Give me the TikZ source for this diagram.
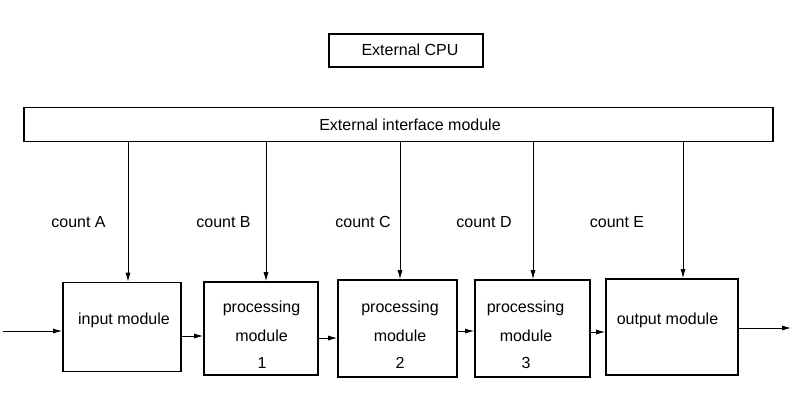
\documentclass[tikz,border=0pt]{standalone}
\usepackage{fontspec}
\setmainfont{Liberation Sans}
\usetikzlibrary{arrows.meta}
\begin{document}
\begin{tikzpicture}[x=1pt,y=-1pt,
  box/.style={draw,line width=1.6pt,inner sep=0pt,anchor=center},
  txt/.style={inner sep=0pt,anchor=center,font=\fontsize{16}{19}\selectfont},
  arr/.style={line width=0.9pt,-{Latex[length=9pt,width=5pt]}}]
\useasboundingbox (0,0) rectangle (800,400);
% boxes
\node[box,minimum width=154pt,minimum height=33pt] (cpu) at (406,50.5) {};
\node[box,minimum width=749pt,minimum height=34pt] (iface) at (398.5,124.5) {};
\node[box,minimum width=118pt,minimum height=89pt] (inp) at (122,327) {};
\node[box,minimum width=114pt,minimum height=93pt] (p1) at (261,328.5) {};
\node[box,minimum width=119pt,minimum height=97pt] (p2) at (397.5,328.5) {};
\node[box,minimum width=115pt,minimum height=97pt] (p3) at (532.5,328.5) {};
\node[box,minimum width=132pt,minimum height=96pt] (out) at (672,327) {};
% texts
\node[txt] (tcpu) at (410,50) {External CPU};
\node[txt] (tif) at (410,125) {External interface module};
\node[txt] (tinp) at (124,320) {input module};
\node[txt] (t1a) at (261.5,308) {processing};
\node[txt] (t1b) at (261.5,336) {module};
\node[txt] (t1c) at (262,363) {1};
\node[txt] (t2a) at (400,308) {processing};
\node[txt] (t2b) at (400,336) {module};
\node[txt] (t2c) at (400,363) {2};
\node[txt] (t3a) at (525.5,308) {processing};
\node[txt] (t3b) at (526,336) {module};
\node[txt] (t3c) at (526,363) {3};
\node[txt] (tout) at (667.5,320) {output module};
\node[txt] (ca) at (78.5,222) {count A};
\node[txt] (cb) at (223.5,222) {count B};
\node[txt] (cc) at (363,222) {count C};
\node[txt] (cd) at (484,222) {count D};
\node[txt] (ce) at (617,222) {count E};
% vertical arrows
\coordinate (xa) at (128,0);
\coordinate (xb) at (266,0);
\coordinate (xc) at (400,0);
\coordinate (xd) at (533,0);
\coordinate (xe) at (683,0);
\draw[arr] (iface.south -| xa) -- (inp.north -| xa);
\draw[arr] (iface.south -| xb) -- (p1.north -| xb);
\draw[arr] (iface.south -| xc) -- (p2.north -| xc);
\draw[arr] (iface.south -| xd) -- (p3.north -| xd);
\draw[arr] (iface.south -| xe) -- (out.north -| xe);
% horizontal arrows
\coordinate (in0) at (3,331);
\coordinate (y1) at (0,336);
\coordinate (y2) at (0,338);
\coordinate (y3) at (0,331);
\coordinate (y4) at (0,332);
\coordinate (out0) at (791,328);
\draw[arr] (in0) -- (inp.west |- in0);
\draw[arr] (inp.east |- y1) -- (p1.west |- y1);
\draw[arr] (p1.east |- y2) -- (p2.west |- y2);
\draw[arr] (p2.east |- y3) -- (p3.west |- y3);
\draw[arr] (p3.east |- y4) -- (out.west |- y4);
\draw[arr] (out.east |- out0) -- (out0);
\end{tikzpicture}
\end{document}
